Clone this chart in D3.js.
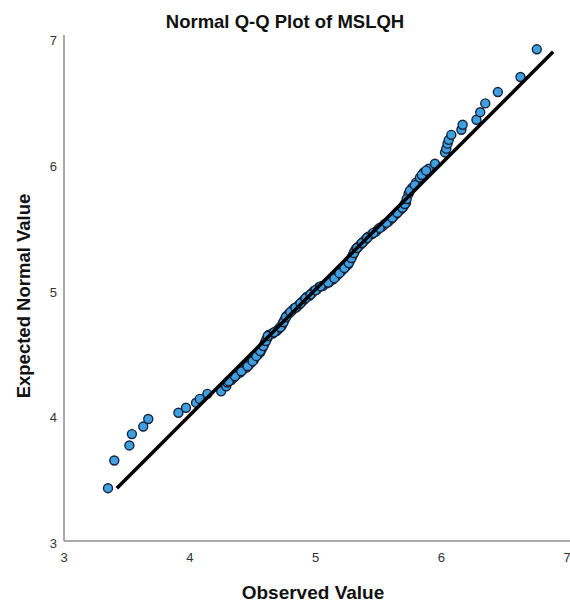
<!DOCTYPE html>
<html>
<head>
<meta charset="utf-8">
<script src="https://cdn.jsdelivr.net/npm/d3@7"></script>
<style>
    html, body { margin: 0; padding: 0; background: #fff; }
    text { font-family: "Liberation Sans", Arial, sans-serif; }
    .tick-label { font-size: 13px; fill: #333; }
</style>
</head>
<body>
<div id="chart"></div>
<script>
const chartTitle = 'Normal Q-Q Plot of MSLQH';
const xTitle = 'Observed Value';
const yTitle = 'Expected Normal Value';
const xTicks = [3, 4, 5, 6, 7];
const yTicks = [3, 4, 5, 6, 7];

const observed = [
    3.35, 3.40, 3.52, 3.54, 3.63, 3.67, 3.91, 3.97, 4.05, 4.08, 4.14, 4.25, 4.29,
    4.30, 4.33, 4.35, 4.37, 4.40, 4.42, 4.45, 4.47, 4.49, 4.51, 4.52, 4.54, 4.56,
    4.57, 4.58, 4.59, 4.60, 4.61, 4.62, 4.63, 4.66, 4.69, 4.71, 4.73, 4.74, 4.75,
    4.76, 4.77, 4.79, 4.81, 4.83, 4.85, 4.87, 4.89, 4.91, 4.93, 4.95, 4.97, 4.99,
    5.01, 5.03, 5.06, 5.09, 5.11, 5.14, 5.16, 5.18, 5.20, 5.22, 5.24, 5.26, 5.27,
    5.28, 5.29, 5.30, 5.31, 5.32, 5.34, 5.36, 5.38, 5.40, 5.42, 5.45, 5.48, 5.50,
    5.53, 5.55, 5.58, 5.60, 5.62, 5.64, 5.66, 5.68, 5.70, 5.72, 5.74, 5.77, 5.80,
    5.83, 5.86, 5.90,
    5.95, 6.03, 6.04, 6.05, 6.06, 6.08, 6.16, 6.17, 6.28, 6.31, 6.35, 6.45, 6.63, 6.76,
    // 中段重叠的点
    4.31, 4.36, 4.41, 4.46, 4.50, 4.53, 4.56, 4.585, 4.605, 4.62, 4.67, 4.72, 4.745,
    4.765, 4.80, 4.84, 4.88, 4.92, 4.96, 5.00, 5.04, 5.10, 5.15, 5.19, 5.23, 5.265,
    5.285, 5.305, 5.33, 5.37, 5.41, 5.46, 5.51, 5.565, 5.61, 5.65, 5.69, 5.71, 5.725,
    5.75, 5.79, 5.845, 5.88
];
const expected = [
    3.42, 3.64, 3.76, 3.85, 3.91, 3.97, 4.02, 4.06, 4.10, 4.13, 4.17, 4.19, 4.23,
    4.26, 4.28, 4.30, 4.32, 4.34, 4.36, 4.38, 4.40, 4.42, 4.44, 4.46, 4.48, 4.50,
    4.52, 4.54, 4.56, 4.58, 4.60, 4.62, 4.64, 4.65, 4.67, 4.69, 4.71, 4.73, 4.75,
    4.77, 4.79, 4.81, 4.83, 4.85, 4.86, 4.88, 4.90, 4.92, 4.94, 4.95, 4.97, 4.99,
    5.00, 5.02, 5.03, 5.05, 5.06, 5.08, 5.10, 5.12, 5.14, 5.16, 5.18, 5.20, 5.22,
    5.24, 5.26, 5.28, 5.30, 5.32, 5.34, 5.36, 5.38, 5.40, 5.42, 5.44, 5.46, 5.48,
    5.50, 5.52, 5.54, 5.56, 5.58, 5.60, 5.62, 5.64, 5.66, 5.69, 5.76, 5.81, 5.85,
    5.89, 5.93, 5.96,
    6.00, 6.09, 6.12, 6.16, 6.19, 6.23, 6.27, 6.31, 6.35, 6.41, 6.48, 6.57, 6.69, 6.91,
    4.27, 4.31, 4.35, 4.39, 4.43, 4.47, 4.51, 4.55, 4.59, 4.63, 4.66, 4.70, 4.74,
    4.78, 4.82, 4.855, 4.89, 4.93, 4.96, 4.995, 5.025, 5.055, 5.09, 5.13, 5.17, 5.21,
    5.25, 5.29, 5.33, 5.37, 5.41, 5.45, 5.49, 5.53, 5.57, 5.61, 5.65, 5.68, 5.72,
    5.785, 5.83, 5.91, 5.945
];

class QQPlot {
    constructor(id) {
        this.id = id;
        this.size = {width: 570, height: 603};
        this.svg = null;
        this.x = null;
        this.y = null;
        this.init();
        this.drawAxes();
        this.drawPoints();
        this.drawLine();   // 参考线画在点的上面
        this.drawTitles();
    }

    init() {
        let [width, height] = [this.size.width, this.size.height];
        this.svg = d3.select('#' + this.id).append('svg')
            .attr('width', width)
            .attr('height', height);
        // 坐标比例尺
        this.x = d3.scaleLinear().domain([3, 7]).range([64, 567]);
        this.y = d3.scaleLinear().domain([3, 7]).range([541, 38]);
    }

    drawAxes() {
        let x = this.x, y = this.y, svg = this.svg;

        svg.append('line')
            .attr('x1', x(3)).attr('x2', 570)
            .attr('y1', y(3)).attr('y2', y(3))
            .attr('stroke', '#8c8c8c').attr('stroke-width', 1.5);
        svg.append('line')
            .attr('x1', x(3)).attr('x2', x(3))
            .attr('y1', y(3)).attr('y2', y(7) - 3)
            .attr('stroke', '#8c8c8c').attr('stroke-width', 1.5);

        svg.append('g').selectAll('text')
            .data(xTicks)
            .join('text')
            .attr('class', 'tick-label')
            .attr('x', d => x(d))
            .attr('y', y(3) + 21)
            .attr('text-anchor', 'middle')
            .text(d => d);

        svg.append('g').selectAll('text')
            .data(yTicks)
            .join('text')
            .attr('class', 'tick-label')
            .attr('x', x(3) - 7)
            .attr('y', d => y(d) + 7)
            .attr('text-anchor', 'end')
            .text(d => d);
    }

    // 参考线 y = x，范围为期望值的最小到最大
    drawLine() {
        let lo = d3.min(expected), hi = d3.max(expected) - 0.02;
        this.svg.append('line')
            .attr('x1', this.x(lo)).attr('y1', this.y(lo))
            .attr('x2', this.x(hi)).attr('y2', this.y(hi))
            .attr('stroke', '#000')
            .attr('stroke-width', 3.5);
    }

    drawPoints() {
        let pts = observed.map((d, i) => [d, expected[i]]);
        this.svg.append('g').selectAll('circle')
            .data(pts)
            .join('circle')
            .attr('cx', d => this.x(d[0]))
            .attr('cy', d => this.y(d[1]))
            .attr('r', 4.5)
            .attr('fill', '#3f9fe0')
            .attr('stroke', '#16243a')
            .attr('stroke-width', 1.4);
    }

    drawTitles() {
        let svg = this.svg;
        svg.append('text')
            .attr('x', 285).attr('y', 28)
            .attr('text-anchor', 'middle')
            .style('font-size', '18.5px')
            .style('font-weight', 'bold')
            .style('fill', '#111')
            .text(chartTitle);

        svg.append('text')
            .attr('x', 313).attr('y', 599)
            .attr('text-anchor', 'middle')
            .style('font-size', '19px')
            .style('font-weight', 'bold')
            .style('fill', '#111')
            .text(xTitle);

        svg.append('text')
            .attr('transform', 'translate(30,296) rotate(-90)')
            .attr('text-anchor', 'middle')
            .style('font-size', '18.5px')
            .style('font-weight', 'bold')
            .style('fill', '#111')
            .text(yTitle);
    }
}

new QQPlot('chart');
</script>
</body>
</html>
